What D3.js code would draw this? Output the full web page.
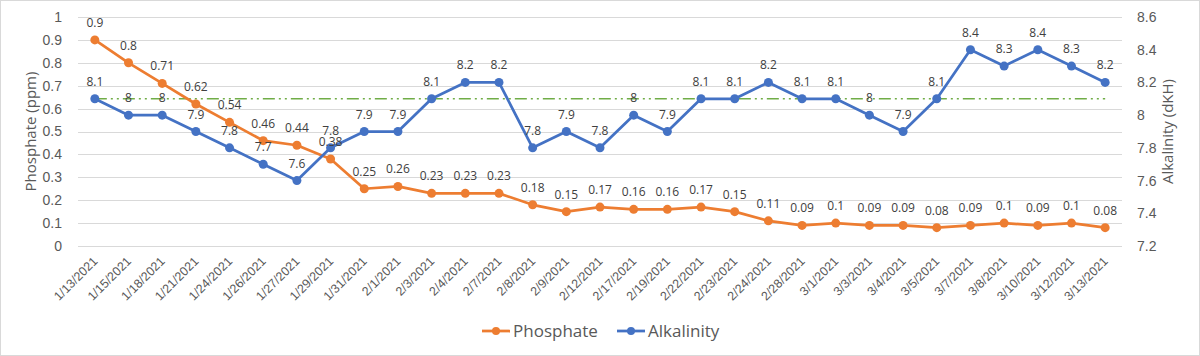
<!DOCTYPE html>
<html><head><meta charset="utf-8">
<script src="https://cdn.jsdelivr.net/npm/d3@7"></script>
<style>body{margin:0;background:#fff}svg{display:block;font-family:"Open Sans",sans-serif}</style>
</head><body><svg id="c" width="1200" height="356"></svg>
<script>
const dates = ["1/13/2021","1/15/2021","1/18/2021","1/21/2021","1/24/2021","1/26/2021","1/27/2021","1/29/2021","1/31/2021","2/1/2021","2/3/2021","2/4/2021","2/7/2021","2/8/2021","2/9/2021","2/12/2021","2/17/2021","2/19/2021","2/22/2021","2/23/2021","2/24/2021","2/28/2021","3/1/2021","3/3/2021","3/4/2021","3/5/2021","3/7/2021","3/8/2021","3/10/2021","3/12/2021","3/13/2021"];
const phosphate = [0.9,0.8,0.71,0.62,0.54,0.46,0.44,0.38,0.25,0.26,0.23,0.23,0.23,0.18,0.15,0.17,0.16,0.16,0.17,0.15,0.11,0.09,0.1,0.09,0.09,0.08,0.09,0.1,0.09,0.1,0.08];
const alkalinity = [8.1,8,8,7.9,7.8,7.7,7.6,7.8,7.9,7.9,8.1,8.2,8.2,7.8,7.9,7.8,8,7.9,8.1,8.1,8.2,8.1,8.1,8,7.9,8.1,8.4,8.3,8.4,8.3,8.2];
const target = dates.map(() => 8.1);
const leftTicks = [0,0.1,0.2,0.3,0.4,0.5,0.6,0.7,0.8,0.9,1];
const rightTicks = [7.2,7.4,7.6,7.8,8,8.2,8.4,8.6];

const svg = d3.select("#c");
const L = 78, R = 1122, T = 17, B = 246;
const x = d3.scalePoint().domain(dates).range([L, R]).padding(0.5);
const yL = d3.scaleLinear().domain([0,1]).range([B,T]);
const yR = d3.scaleLinear().domain([7.2,8.6]).range([B,T]);
const txt = "#595959";

svg.append("rect").attr("x",0.5).attr("y",0.5).attr("width",1199).attr("height",355)
  .attr("fill","#fff").attr("stroke","#d9d9d9");

// gridlines
svg.append("g").selectAll("line").data(leftTicks).join("line")
  .attr("x1",L).attr("x2",R).attr("y1",d=>Math.round(yL(d))+0.5).attr("y2",d=>Math.round(yL(d))+0.5)
  .attr("stroke","#d9d9d9").attr("stroke-width",1);

// left axis
const ga = svg.append("g").attr("transform",`translate(${L},0)`)
  .call(d3.axisLeft(yL).tickValues(leftTicks).tickSize(0).tickPadding(16).tickFormat(d3.format("~g")));
ga.select(".domain").remove();
ga.selectAll("text").attr("fill",txt).attr("font-size",14);

// right axis
const gr = svg.append("g").attr("transform",`translate(${R},0)`)
  .call(d3.axisRight(yR).tickValues(rightTicks).tickSize(0).tickPadding(15).tickFormat(d3.format("~g")));
gr.select(".domain").remove();
gr.selectAll("text").attr("fill",txt).attr("font-size",14);

// x axis
const gx = svg.append("g").attr("transform",`translate(0,${B})`)
  .call(d3.axisBottom(x).tickSize(0).tickPadding(0));
gx.select(".domain").remove();
gx.selectAll("text").attr("fill",txt).attr("font-size",12.5)
  .attr("text-anchor","end").attr("dy",0)
  .attr("transform","translate(3,16) rotate(-45)");

// axis titles
svg.append("text").attr("transform",`translate(36,${(T+B)/2}) rotate(-90)`)
  .attr("text-anchor","middle").attr("fill",txt).attr("font-size",15).text("Phosphate (ppm)");
svg.append("text").attr("transform",`translate(1173,${(T+B)/2}) rotate(-90)`)
  .attr("text-anchor","middle").attr("fill",txt).attr("font-size",15).text("Alkalinity (dKH)");

// target line
svg.append("path").datum(target)
  .attr("d", d3.line().x((d,i)=>x(dates[i])).y(d=>yR(d)))
  .attr("fill","none").attr("stroke","#70AD47").attr("stroke-width",1.5)
  .attr("stroke-dasharray","12,4,2,4,2,4");

function series(vals, y, color){
  const g = svg.append("g");
  g.append("path").datum(vals)
    .attr("d", d3.line().x((d,i)=>x(dates[i])).y(d=>y(d)))
    .attr("fill","none").attr("stroke",color).attr("stroke-width",2.75).attr("stroke-linejoin","round");
  g.selectAll("circle").data(vals).join("circle")
    .attr("cx",(d,i)=>x(dates[i])).attr("cy",d=>y(d)).attr("r",4.5).attr("fill",color);
  return g;
}
series(phosphate, yL, "#ED7D31");
series(alkalinity, yR, "#4472C4");

// labels
function labels(vals, y){
  svg.append("g").selectAll("text").data(vals).join("text")
    .attr("x",(d,i)=>x(dates[i])).attr("y",d=>y(d)-13)
    .attr("text-anchor","middle").attr("fill","#404040").attr("font-size",12)
    .text(d=>d3.format("~g")(d));
}
labels(phosphate, yL);
labels(alkalinity, yR);

// legend
const lg = svg.append("g").attr("transform","translate(0,331)");
const items = [{n:"Phosphate",c:"#ED7D31",x:482},{n:"Alkalinity",c:"#4472C4",x:617}];
items.forEach(it=>{
  lg.append("line").attr("x1",it.x).attr("x2",it.x+28).attr("y1",0).attr("y2",0)
    .attr("stroke",it.c).attr("stroke-width",2.75);
  lg.append("circle").attr("cx",it.x+14).attr("cy",0).attr("r",4).attr("fill",it.c);
  lg.append("text").attr("x",it.x+31).attr("y",0).attr("dy","0.35em")
    .attr("fill",txt).attr("font-size",17).text(it.n);
});
</script></body></html>
